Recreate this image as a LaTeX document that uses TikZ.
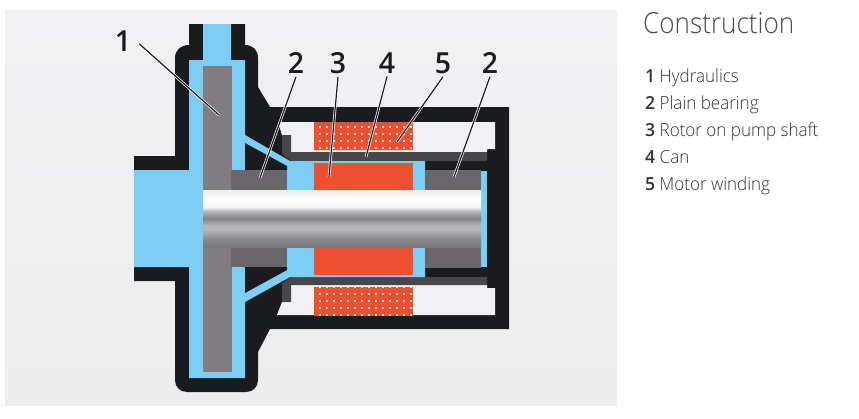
\documentclass[tikz,border=0pt]{standalone}
\usepackage{fontspec}
\setmainfont[FakeStretch=0.945]{Open Sans Light}
\newfontfamily\titlefont[FakeStretch=0.9]{Open Sans Light}
\newfontfamily\numfont[FakeStretch=0.98]{Open Sans Semibold}
\definecolor{housing}{HTML}{1A1B1F}
\definecolor{water}{HTML}{7DCEF4}
\definecolor{impeller}{HTML}{7F7D80}
\definecolor{bearing}{HTML}{6A676B}
\definecolor{can}{HTML}{47464B}
\definecolor{copper}{HTML}{EC5030}
\definecolor{inner}{HTML}{F1F1F3}
\pgfdeclareverticalshading{shaftshade}{100bp}{
  rgb(0bp)=(.47,.47,.49);
  rgb(25bp)=(.47,.47,.49);
  rgb(31bp)=(.52,.52,.54);
  rgb(40bp)=(.71,.71,.72);
  rgb(44bp)=(.71,.71,.73);
  rgb(50bp)=(.50,.50,.52);
  rgb(56bp)=(.69,.69,.71);
  rgb(60bp)=(.95,.95,.95);
  rgb(66bp)=(1,1,1);
  rgb(75bp)=(.93,.93,.93);
  rgb(100bp)=(.93,.93,.93)}
\tikzset{
  callout/.style={font=\numfont\fontsize{29}{29}\selectfont,text=housing,inner sep=3pt},
  listrow/.style={anchor=base west,inner sep=0pt,font=\fontsize{18}{18}\selectfont,text=black!80},
  leaderhalo/.style={draw=white,line width=2.6pt},
  leaderline/.style={draw=housing,line width=1.2pt}
}
\newcommand{\leader}[2]{%
  \draw[leaderhalo] (#1) -- (#2);
  \draw[leaderline] (#1) -- (#2);
}
\begin{document}
\begin{tikzpicture}[x=1pt,y=-1pt]
    \useasboundingbox (0,0) rectangle (859,418);
    \fill[white] (0,0) rectangle (859,418);
    \shade[top color=inner,bottom color=black!7] (5,10) rectangle (617,405);
    % housing
    \fill[housing] (134,156)--(175,156)--(175,58) .. controls (175,50) and (181,45) .. (189,45)
      --(189,24)--(245,24)--(245,45) .. controls (253,45) and (258,50) .. (258,58)
      --(258,87)--(270,107)--(509,107)--(509,329)--(270,329)--(258,352)--(258,380)
      .. controls (258,387) and (253,392) .. (246,392)--(187,392) .. controls (180,392) and (175,387) .. (175,380)
      --(175,281)--(134,281)--cycle;
    % motor chamber
    \fill[inner] (278,122)--(495,122)--(495,149)--(487,149)--(487,152)--(291,152)--(291,135)--(282,135)--cycle;
    \fill[inner] (277,315)--(495,315)--(495,288)--(487,288)--(487,285)--(291,285)--(291,302)--(282,302)--cycle;
    % can
    \fill[can] (282,135)--(291,135)--(291,152)--(487,152)--(487,161)--(291,161)--(282,154)--cycle;
    \fill[can] (282,302)--(291,302)--(291,285)--(487,285)--(487,277)--(291,277)--(282,283)--cycle;
    % water
    \fill[water] (134,170)--(189,170)--(189,60)--(203,60)--(203,24)--(231,24)--(231,60)--(245,60)--(245,135)--(290,161)--(425,161)--(425,277)--(290,277)--(245,302)--(245,378)--(189,378)--(189,267)--(134,267)--cycle;
    \fill[housing] (245,143)--(287,166)--(287,170)--(245,170)--cycle;
    \fill[housing] (245,293)--(287,270)--(287,267)--(245,267)--cycle;
    \fill[water] (481,171) rectangle (487,267);
    % impeller and bearings
    \fill[impeller] (203,66) rectangle (232,372);
    \fill[bearing] (231,170) rectangle (287,267);
    \fill[bearing] (425,170) rectangle (481,268);
    % rotor and winding
    \fill[copper] (314,163) rectangle (413,275);
    \begin{scope}
      \clip (314,122) rectangle (413,150) (314,287) rectangle (413,316);
      \fill[copper] (314,122) rectangle (413,316);
      \foreach \px in {313,320,...,414}{
        \foreach \py in {121,127,134,141,148,287,294,301,308,315}
          \fill[white,opacity=.85] (\px-.8,\py-.8) rectangle (\px+.8,\py+.8);
      }
    \end{scope}
    % shaft
    \shade[shading=shaftshade] (203,190) rectangle (481,247);
    % callouts
    \node[callout,inner sep=8pt] (lab1) at (123,41) {1};
    \node[callout] (lab2a) at (296,63) {2};
    \node[callout] (lab3) at (338,63) {3};
    \node[callout] (lab4) at (387,63) {4};
    \node[callout] (lab5) at (443,63) {5};
    \node[callout] (lab2b) at (490,63) {2};
    \coordinate (tip1) at (219,115);
    \coordinate (tip2a) at (260,178);
    \coordinate (tip3) at (329,177);
    \coordinate (tip4) at (366,157);
    \coordinate (tip5) at (397,142);
    \coordinate (tip2b) at (454,177);
    \leader{lab1.-10}{tip1}
    \leader{lab2a.south}{tip2a}
    \leader{lab3.south}{tip3}
    \leader{lab4.south}{tip4}
    \leader{lab5.south}{tip5}
    \leader{lab2b.south}{tip2b}
    % legend
    \node[anchor=base west,inner sep=0pt,font=\titlefont\fontsize{29}{29}\selectfont,text=black!70] (title) at (643,33) {Construction};
    \node[listrow] (row1) at (645,82) {{\numfont 1} Hydraulics};
    \node[listrow] (row2) at (645,109) {{\numfont 2} Plain bearing};
    \node[listrow] (row3) at (645,136) {{\numfont 3} Rotor on pump shaft};
    \node[listrow] (row4) at (645,163) {{\numfont 4} Can};
    \node[listrow] (row5) at (645,190) {{\numfont 5} Motor winding};
\end{tikzpicture}
\end{document}
